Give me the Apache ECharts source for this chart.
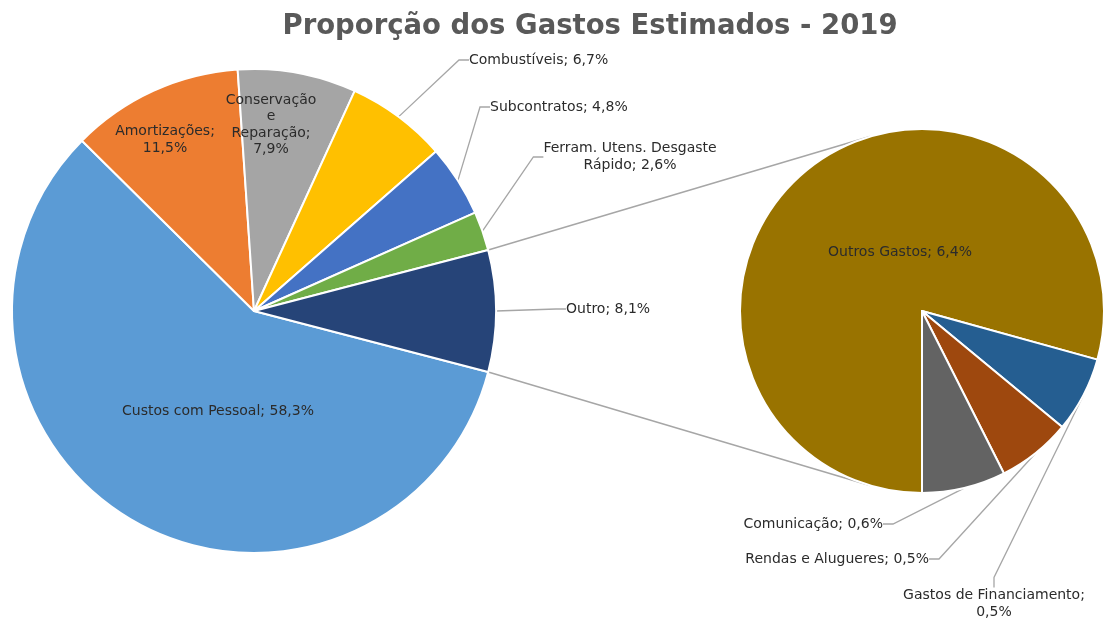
<!DOCTYPE html>
<html>
<head>
<meta charset="utf-8">
<script src="https://cdn.jsdelivr.net/npm/echarts@6/dist/echarts.min.js"></script>
<style>
  html, body { margin: 0; padding: 0; background: #fff; }
  #chart { width: 1104px; height: 620px; }
</style>
</head>
<body>
<div id="chart"></div>
<script>
// dados (percentagens do total)
const mainNames = ["Custos com Pessoal", "Amortizações", "Conservação e Reparação", "Combustíveis", "Subcontratos", "Ferram. Utens. Desgaste Rápido", "Outro"];
const mainValues = [58.3, 11.5, 7.9, 6.7, 4.8, 2.6, 8.1];
const subNames = ["Outros Gastos", "Gastos de Financiamento", "Rendas e Alugueres", "Comunicação"];
const subValues = [6.4, 0.54, 0.53, 0.6];

const mainColors = ["#5B9BD5", "#ED7D31", "#A5A5A5", "#FFC000", "#4472C4", "#70AD47", "#264478"];
const subColors = ["#997300", "#255E91", "#9E480E", "#636363"];

// quebras de linha como no Excel
const labelBreaks = {
  "Amortizações": "Amortizações;\n",
  "Conservação e Reparação": "Conservação\ne\nReparação;\n",
  "Ferram. Utens. Desgaste Rápido": "Ferram. Utens. Desgaste\nRápido; ",
  "Gastos de Financiamento": "Gastos de Financiamento;\n"
};
// etiquetas dentro da fatia (sem linha)
const insideLabels = ["Custos com Pessoal", "Amortizações", "Conservação e Reparação", "Outros Gastos"];

// posição das etiquetas [x, y, align]
const labelPos = [
  [[218, 411, "center"], [165, 140, "center"], [271, 125, "center"], [469, 60, "left"],
   [490, 107, "left"], [630, 157, "center"], [566, 309, "left"]],
  [[900, 252, "center"], [994, 604, "center"], [929, 559, "right"], [883, 524, "right"]]
];

const mainCenter = [254, 311], mainR = 242;
const subCenter = [922, 311], subR = 182;

const sum = a => a.reduce((s, v) => s + v, 0);
const fmt = p => {
  const head = labelBreaks[p.name] || (p.name + "; ");
  return head + p.value.toFixed(1).replace(".", ",") + "%";
};

function buildData(names, values, colors) {
  return names.map((n, i) => {
    const inside = insideLabels.includes(n);
    return {
      name: n,
      value: values[i],
      itemStyle: { color: colors[i] },
      labelLine: { show: !inside }
    };
  });
}

// fatia "Outro" centrada a 3 horas
const outroHalf = mainValues[mainValues.length - 1] / sum(mainValues) * 180;

const chart = echarts.init(document.getElementById("chart"));

const baseSeries = {
  type: "pie",
  clockwise: true,
  avoidLabelOverlap: false,
  itemStyle: { borderColor: "#fff", borderWidth: 2 },
  label: {
    show: true,
    position: "outside",
    formatter: fmt,
    color: "#2b2b2b",
    fontFamily: "DejaVu Sans",
    fontSize: 14,
    lineHeight: 16.5
  },
  labelLine: {
    show: true,
    length: 10,
    length2: 10,
    lineStyle: { color: "#A6A6A6", width: 1.3 }
  },
  emphasis: { disabled: true }
};

function layoutFor(si) {
  return function (params) {
    const p = labelPos[si][params.dataIndex];
    return { x: p[0], y: p[1], align: p[2], verticalAlign: "middle" };
  };
}

// linhas de ligação entre as duas tartes
function connectorLines() {
  const lines = [];
  [outroHalf, -outroHalf].forEach((deg, k) => {
    const a = deg * Math.PI / 180;
    const P = [mainCenter[0] + mainR * Math.cos(a), mainCenter[1] - mainR * Math.sin(a)];
    const dx = P[0] - subCenter[0], dy = P[1] - subCenter[1];
    const d = Math.hypot(dx, dy);
    const alpha = Math.acos(subR / d);
    const base = Math.atan2(dy, dx);
    const cands = [base + alpha, base - alpha].map(t => [subCenter[0] + subR * Math.cos(t), subCenter[1] + subR * Math.sin(t)]);
    cands.sort((u, v) => u[1] - v[1]);
    const T = k === 0 ? cands[0] : cands[1];
    lines.push({
      type: "line",
      z: -1,
      shape: { x1: P[0], y1: P[1], x2: T[0], y2: T[1] },
      style: { stroke: "#A6A6A6", lineWidth: 1.5 }
    });
  });
  return lines;
}

chart.setOption({
  backgroundColor: "#fff",
  animation: false,
  title: {
    text: "Proporção dos Gastos Estimados - 2019",
    left: 585,
    top: 8,
    textAlign: "center",
    textStyle: { fontFamily: "DejaVu Sans", fontWeight: "bold", fontSize: 27.5, color: "#595959" }
  },
  graphic: connectorLines(),
  series: [
    Object.assign({}, baseSeries, {
      name: "principal",
      center: mainCenter,
      radius: mainR,
      startAngle: -outroHalf,
      data: buildData(mainNames, mainValues, mainColors),
      labelLayout: layoutFor(0)
    }),
    Object.assign({}, baseSeries, {
      name: "outro",
      center: subCenter,
      radius: subR,
      startAngle: -90,
      data: buildData(subNames, subValues, subColors),
      labelLayout: layoutFor(1)
    })
  ]
});
</script>
</body>
</html>
